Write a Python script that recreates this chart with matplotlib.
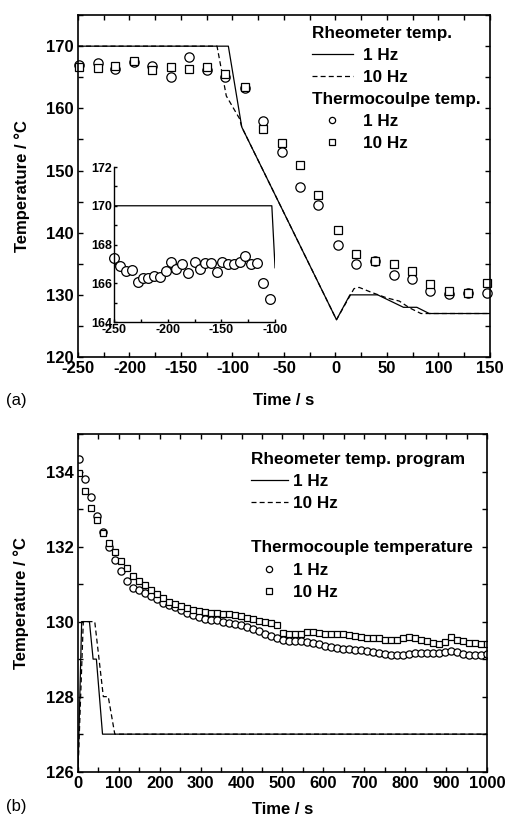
import matplotlib
matplotlib.use("Agg")
import matplotlib.pyplot as plt
from matplotlib.lines import Line2D
from matplotlib.ticker import MultipleLocator

plt.rcParams['font.family'] = ['Liberation Sans', 'DejaVu Sans']
plt.rcParams['font.weight'] = 'bold'
plt.rcParams['axes.unicode_minus'] = False

# ---- panel (a): cooling step around t = 0 ----
a_prog_1hz_t = [-250, -104, -91, 1, 14, 41, 66, 79, 91, 150]
a_prog_1hz_T = [170, 170, 157, 126, 130, 130, 128, 128, 127, 127]
a_prog_10hz_t = [-250, -115, -106, -93, -91, 1, 18, 23, 35, 50, 62, 72, 83, 150]
a_prog_10hz_T = [170, 170, 162, 158.3, 157, 126, 131, 131.2, 130.4, 129.5, 129.0, 127.9, 127.0, 127]

a_tc_t = [-248.6, -230.8, -213.6, -195.8, -177.9, -160.1, -142.3, -124.4, -107.2, -87.8,
          -70.0, -52.1, -34.3, -16.5, 2.0, 20.2, 38.4, 56.5, 74.6, 92.2, 110.7, 128.9, 146.7]
a_tc_1hz = [167.0, 167.3, 166.3, 167.5, 166.8, 165.1, 168.3, 166.2, 165.1, 163.2,
            158.0, 153.0, 147.4, 144.4, 138.0, 134.9, 135.4, 133.2, 132.6, 130.6, 130.2, 130.3, 130.3]
a_tc_10hz = [166.7, 166.5, 166.8, 167.6, 166.2, 166.7, 166.4, 166.7, 165.5, 163.4,
             156.7, 154.5, 150.9, 146.0, 140.4, 136.5, 135.5, 134.9, 133.8, 131.8, 130.7, 130.3, 131.9]

# inset: isothermal part at 170 C
in_prog_t = [-250, -103, -100]
in_prog_T = [170, 170, 166.8]
in_tc_t = [-250, -244, -239, -233.5, -228, -223, -218, -213, -207, -202, -197, -192, -186.5, -181,
           -175, -170, -165, -160, -154, -149, -143.5, -138, -133, -128, -122, -116.5, -111, -105]
in_tc_T = [167.28, 166.9, 166.64, 166.7, 166.07, 166.28, 166.28, 166.4, 166.33, 166.64, 167.1, 166.76,
           166.97, 166.55, 167.1, 166.76, 167.05, 167.05, 166.6, 167.1, 166.97, 167.0, 167.1, 167.42,
           167.0, 167.05, 166.03, 165.2]

# ---- panel (b): isothermal at 127 C ----
b_prog_1hz_t = [0, 9, 28, 37, 45, 60, 1000]
b_prog_1hz_T = [126, 130, 130, 129, 129, 127, 127]
b_prog_10hz_t = [0, 13, 41, 62, 74, 90, 1000]
b_prog_10hz_T = [126, 130, 130, 128, 128, 127, 127]

b_tc_t = [2, 17, 31, 46, 61, 75, 90, 105, 119, 134, 149, 163, 178, 193, 207, 222, 237, 251, 266,
          281, 295, 310, 325, 339, 354, 369, 383, 398, 413, 427, 442, 457, 471, 486, 501, 515, 530,
          545, 559, 574, 589, 603, 618, 633, 647, 662, 677, 691, 706, 721, 735, 750, 765, 779, 794,
          809, 823, 838, 853, 867, 882, 897, 911, 926, 941, 955, 970, 985, 999]
b_tc_1hz = [134.33, 133.8, 133.31, 132.82, 132.40, 132.0, 131.65, 131.35, 131.07, 130.90, 130.84,
            130.75, 130.68, 130.60, 130.50, 130.44, 130.40, 130.30, 130.22, 130.18, 130.11, 130.07,
            130.05, 130.03, 130.0, 129.97, 129.93, 129.90, 129.85, 129.80, 129.74, 129.68, 129.62,
            129.55, 129.50, 129.49, 129.48, 129.47, 129.45, 129.42, 129.40, 129.35, 129.31, 129.30,
            129.28, 129.27, 129.25, 129.23, 129.22, 129.20, 129.16, 129.13, 129.12, 129.11, 129.11,
            129.14, 129.17, 129.17, 129.16, 129.15, 129.15, 129.18, 129.22, 129.2, 129.13, 129.11,
            129.11, 129.12, 129.13]
b_tc_10hz = [133.97, 133.48, 133.02, 132.71, 132.35, 132.09, 131.85, 131.62, 131.42, 131.22,
             131.08, 130.98, 130.85, 130.73, 130.64, 130.53, 130.46, 130.41, 130.36, 130.31, 130.27,
             130.25, 130.24, 130.22, 130.20, 130.20, 130.18, 130.14, 130.10, 130.06, 130.02, 129.99,
             129.97, 129.90, 129.70, 129.68, 129.68, 129.68, 129.72, 129.72, 129.70, 129.68, 129.67,
             129.67, 129.68, 129.64, 129.61, 129.58, 129.57, 129.56, 129.55, 129.52, 129.50, 129.50,
             129.55, 129.58, 129.56, 129.50, 129.47, 129.43, 129.41, 129.45, 129.58, 129.52, 129.47,
             129.44, 129.42, 129.41, 129.40]

LW = 0.9
DASH = (0, (4, 2.5))
FS = 12
LEG_FS = 12.3


def style_axes(ax, size=FS, length=3.5):
    for sp in ax.spines.values():
        sp.set_linewidth(1.2)
    ax.tick_params(which='both', direction='in', length=length, width=1.0,
                   labelsize=size, top=True, right=True, pad=3)
    for lab in ax.get_xticklabels() + ax.get_yticklabels():
        lab.set_fontweight('bold')


def add_legends(ax, head1, head2, x0, y1, y2, hlen, hpad):
    props = {'weight': 'bold', 'size': LEG_FS}
    kw = dict(frameon=False, loc='upper left', borderpad=0, borderaxespad=0,
              handlelength=hlen, handletextpad=hpad, labelspacing=0.42, alignment='left',
              prop=props, title_fontproperties=props)
    h1 = [Line2D([], [], color='k', lw=LW), Line2D([], [], color='k', lw=LW, ls=DASH)]
    leg1 = ax.legend(h1, ['1 Hz', '10 Hz'], title=head1, bbox_to_anchor=(x0, y1), **kw)
    ax.add_artist(leg1)
    h2 = [Line2D([], [], marker='o', ls='none', mfc='white', mec='k', ms=4.5, mew=0.9),
          Line2D([], [], marker='s', ls='none', mfc='white', mec='k', ms=4.5, mew=0.9)]
    ax.legend(h2, ['1 Hz', '10 Hz'], title=head2, bbox_to_anchor=(x0, y2), **kw)


fig = plt.figure(figsize=(5.07, 8.24), dpi=100)

# panel (a)
ax1 = fig.add_axes([0.1538, 0.5667, 0.8126, 0.4150])
ax1.plot(a_prog_1hz_t, a_prog_1hz_T, color='k', lw=LW)
ax1.plot(a_prog_10hz_t, a_prog_10hz_T, color='k', lw=LW, ls=DASH)
ax1.plot(a_tc_t, a_tc_1hz, 'o', mfc='white', mec='k', ms=6.7, mew=0.9, clip_on=False)
ax1.plot(a_tc_t, a_tc_10hz, 's', mfc='white', mec='k', ms=6.0, mew=0.9, clip_on=False)
ax1.set_xlim(-250, 150)
ax1.set_ylim(120, 175)
ax1.xaxis.set_major_locator(MultipleLocator(50))
ax1.xaxis.set_minor_locator(MultipleLocator(25))
ax1.yaxis.set_major_locator(MultipleLocator(10))
ax1.yaxis.set_minor_locator(MultipleLocator(5))
style_axes(ax1)
ax1.set_xlabel('Time / s', fontsize=FS, fontweight='bold', labelpad=12)
ax1.set_ylabel('Temperature / \u00b0C', fontsize=FS, fontweight='bold', labelpad=11.5)
add_legends(ax1, 'Rheometer temp.', 'Thermocoulpe temp.', 0.568, 0.968, 0.775, 2.4, 0.6)

# inset
axi = fig.add_axes([0.2249, 0.6092, 0.3176, 0.1881])
axi.plot(in_prog_t, in_prog_T, color='k', lw=LW)
axi.plot(in_tc_t, in_tc_T, 'o', mfc='white', mec='k', ms=7.0, mew=0.9, clip_on=False)
axi.set_xlim(-250, -100)
axi.set_ylim(164, 172)
axi.patch.set_alpha(0)
axi.spines['top'].set_visible(False)
axi.spines['right'].set_visible(False)
axi.xaxis.set_major_locator(MultipleLocator(50))
axi.xaxis.set_minor_locator(MultipleLocator(25))
axi.yaxis.set_major_locator(MultipleLocator(2))
axi.yaxis.set_minor_locator(MultipleLocator(1))
style_axes(axi, size=9, length=2.5)
axi.tick_params(which='both', top=False, right=False, pad=1.5)
for sp in axi.spines.values():
    sp.set_linewidth(1.0)

# panel (b)
ax2 = fig.add_axes([0.1538, 0.0635, 0.8067, 0.4098])
ax2.plot(b_prog_1hz_t, b_prog_1hz_T, color='k', lw=LW)
ax2.plot(b_prog_10hz_t, b_prog_10hz_T, color='k', lw=LW, ls=DASH)
ax2.plot(b_tc_t, b_tc_1hz, 'o', mfc='white', mec='k', ms=5.2, mew=0.9)
ax2.plot(b_tc_t, b_tc_10hz, 's', mfc='white', mec='k', ms=5.0, mew=0.9)
ax2.set_xlim(0, 1000)
ax2.set_ylim(126, 135)
ax2.xaxis.set_major_locator(MultipleLocator(100))
ax2.xaxis.set_minor_locator(MultipleLocator(50))
ax2.yaxis.set_major_locator(MultipleLocator(2))
ax2.yaxis.set_minor_locator(MultipleLocator(1))
style_axes(ax2)
ax2.set_xlabel('Time / s', fontsize=FS, fontweight='bold', labelpad=8)
ax2.set_ylabel('Temperature / \u00b0C', fontsize=FS, fontweight='bold', labelpad=12)
add_legends(ax2, 'Rheometer temp. program', 'Thermocouple temperature', 0.422, 0.948, 0.685, 2.2, 0.3)

fig.text(0.012, 1 - 400 / 824, '(a)', fontsize=12, fontweight='normal', va='center')
fig.text(0.012, 1 - 807 / 824, '(b)', fontsize=12, fontweight='normal', va='center')

fig.savefig('out.png', dpi=100)
